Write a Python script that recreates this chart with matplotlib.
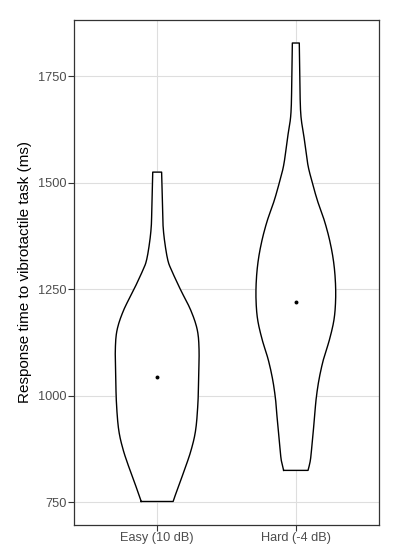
import numpy as np
import matplotlib.pyplot as plt

plt.rcParams['font.family'] = ['Liberation Sans', 'DejaVu Sans']

groups = ['Easy (10 dB)', 'Hard (-4 dB)']
means = [1044, 1221]

# violin outline: response time (ms) and half width of the density (x units)
easy_rt = [752, 781, 828, 874, 921, 984, 1046, 1108, 1155, 1201, 1248, 1295,
           1318, 1357, 1396, 1435, 1474, 1525]
easy_hw = [0.115, 0.146, 0.199, 0.246, 0.278, 0.294, 0.299, 0.302, 0.289, 0.242,
           0.170, 0.103, 0.077, 0.056, 0.043, 0.039, 0.036, 0.032]
hard_rt = [825, 851, 898, 945, 991, 1038, 1085, 1131, 1178, 1224, 1271, 1318,
           1365, 1411, 1458, 1505, 1544, 1605, 1660, 1738, 1828]
hard_hw = [0.088, 0.106, 0.120, 0.134, 0.146, 0.167, 0.199, 0.242, 0.275, 0.287,
           0.285, 0.271, 0.244, 0.206, 0.156, 0.115, 0.086, 0.060, 0.036, 0.029,
           0.025]

yticks = [750, 1000, 1250, 1500, 1750]


def smooth(x, y, k=12):
    # catmull-rom through the points, only to draw a rounder outline
    p = np.column_stack([x, y]).astype(float)
    p = np.vstack([p[0], p, p[-1]])
    t = np.linspace(0, 1, k, endpoint=False)[:, None]
    out = []
    for i in range(1, len(p) - 2):
        p0, p1, p2, p3 = p[i-1], p[i], p[i+1], p[i+2]
        out.append(0.5 * (2*p1 + (-p0 + p2)*t + (2*p0 - 5*p1 + 4*p2 - p3)*t**2
                          + (-p0 + 3*p1 - 3*p2 + p3)*t**3))
    out.append(p[-2][None, :])
    out = np.vstack(out)
    return out[:, 0], out[:, 1]


fig = plt.figure(figsize=(4, 5.6), dpi=100)
ax = fig.add_axes([74/400, 1-524.5/560, 305/400, 504.5/560])

profiles = [(easy_rt, easy_hw), (hard_rt, hard_hw)]
for i, (rt, hw) in enumerate(profiles):
    x0 = i + 1
    rt, hw = smooth(rt, hw)
    xs = np.concatenate([x0 - hw, (x0 + hw)[::-1], [x0 - hw[0]]])
    ys = np.concatenate([rt, rt[::-1], [rt[0]]])
    ax.fill(xs, ys, color='white', zorder=2)
    ax.plot(xs, ys, color='black', lw=1.0, zorder=3, solid_joinstyle='round')
    ax.scatter([x0], [means[i]], s=8, color='black', zorder=4, linewidths=0)

ax.set_xlim(0.4, 2.6)
ax.set_ylim(698, 1882)
ax.set_xticks([1, 2])
ax.set_xticklabels(groups)
ax.set_yticks(yticks)
ax.grid(True, color='#DEDEDE', lw=0.8, zorder=0)
ax.set_axisbelow(True)
for s in ax.spines.values():
    s.set_color('#333333')
    s.set_linewidth(0.9)
ax.tick_params(length=4, width=0.8, color='#333333', labelcolor='#4D4D4D',
               labelsize=9.2, pad=1.5)
ax.set_ylabel('Response time to vibrotactile task (ms)', fontsize=11,
              color='black', labelpad=4)

fig.savefig('out.png', dpi=100, facecolor='white')
